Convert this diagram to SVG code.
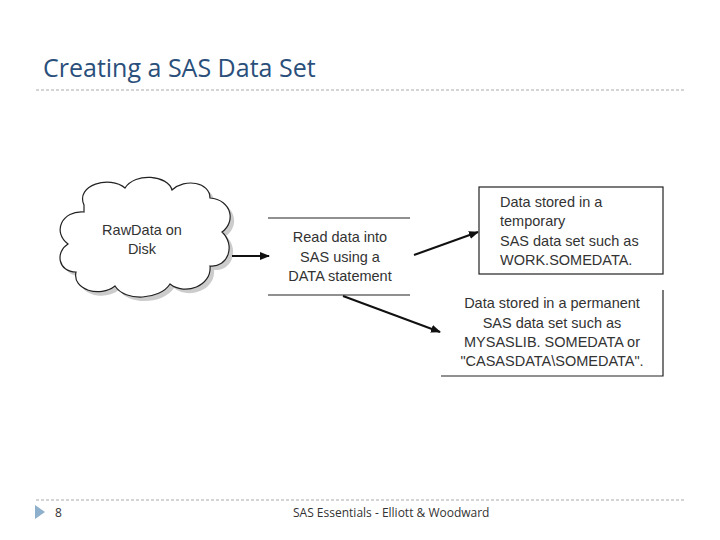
<svg xmlns="http://www.w3.org/2000/svg" width="720" height="540" viewBox="0 0 720 540">
<style>
.t{font-family:"Open Sans","Liberation Sans",sans-serif;fill:#333}
.d{font-family:"Liberation Sans",Arial,sans-serif;font-size:14.5px;fill:#333}
.c{stroke:#111;stroke-width:2;fill:none}
</style>
<defs><marker id="a" markerWidth="10" markerHeight="8" refX="9" refY="4" orient="auto" markerUnits="userSpaceOnUse"><path d="M0,0 L10,4 L0,8 Z" fill="#111"/></marker></defs>
<rect width="720" height="540" fill="#fff"/>
<text x="43" y="77" class="t" font-size="25" fill="#1f4e79" style="fill:#2a4f7a">Creating a SAS Data Set</text>
<line x1="36" y1="90" x2="686" y2="90" stroke="#aaa" stroke-dasharray="3,2"/>
<g id="cloud">
<path d="M84,205 C75,185 110,175 125,188 C135,172 168,175 172,190 C185,178 210,182 210,198 C232,200 236,222 222,232 C236,245 228,268 210,266 C212,286 185,296 170,284 C160,300 125,302 115,286 C100,298 72,290 76,272 C58,272 55,252 68,244 C52,232 62,210 84,212 Z" fill="#ccc" transform="translate(4,4)"/>
<path d="M84,205 C75,185 110,175 125,188 C135,172 168,175 172,190 C185,178 210,182 210,198 C232,200 236,222 222,232 C236,245 228,268 210,266 C212,286 185,296 170,284 C160,300 125,302 115,286 C100,298 72,290 76,272 C58,272 55,252 68,244 C52,232 62,210 84,212 Z" fill="#fff" stroke="#222" stroke-width="1.2"/>
<text x="142" y="235" class="d" text-anchor="middle">RawData on</text>
<text x="142" y="254" class="d" text-anchor="middle">Disk</text>
</g>
<g id="read">
<line x1="268" y1="218" x2="410" y2="218" stroke="#222" stroke-width="1.2"/>
<line x1="268" y1="295" x2="410" y2="295" stroke="#222" stroke-width="1.2"/>
<text x="340" y="242" class="d" text-anchor="middle">Read data into</text>
<text x="340" y="262" class="d" text-anchor="middle">SAS using a</text>
<text x="340" y="281" class="d" text-anchor="middle">DATA statement</text>
</g>
<g id="temp">
<rect x="479" y="187" width="184" height="87" fill="#fff" stroke="#222" stroke-width="1.2"/>
<text x="500" y="207" class="d">Data stored in a</text>
<text x="500" y="226" class="d">temporary</text>
<text x="500" y="246" class="d">SAS data set such as</text>
<text x="500" y="265" class="d">WORK.SOMEDATA.</text>
</g>
<g id="perm">
<polyline points="663,290 663,376 441,376" fill="none" stroke="#222" stroke-width="1.2"/>
<text x="552" y="308" class="d" text-anchor="middle">Data stored in a permanent</text>
<text x="552" y="328" class="d" text-anchor="middle">SAS data set such as</text>
<text x="552" y="347" class="d" text-anchor="middle">MYSASLIB. SOMEDATA or</text>
<text x="552" y="366" class="d" text-anchor="middle">"CASASDATA\SOMEDATA".</text>
</g>
<g id="connectors">
<line x1="232" y1="256" x2="269" y2="256" class="c" marker-end="url(#a)"/>
<line x1="343" y1="296" x2="440" y2="332" class="c" marker-end="url(#a)"/>
<line x1="414" y1="255" x2="478" y2="232" class="c" marker-end="url(#a)"/>
</g>
<line x1="36" y1="500" x2="686" y2="500" stroke="#aaa" stroke-dasharray="3,2"/>
<path d="M35,505 L45,512 L35,519 Z" fill="#8fb0cc"/>
<text x="55" y="517" class="t" font-size="12">8</text>
<text x="293" y="517" class="t" font-size="12">SAS Essentials - Elliott &amp; Woodward</text>
</svg>
